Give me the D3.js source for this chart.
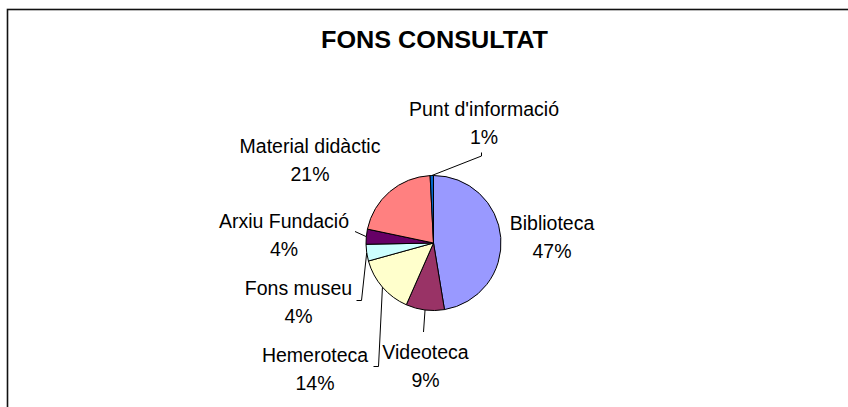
<!DOCTYPE html>
<html>
<head>
<meta charset="utf-8">
<script src="https://cdn.jsdelivr.net/npm/d3@7"></script>
<style>
  body { margin: 0; background: #fff; }
  svg { display: block; }
  text { font-family: Arial, "Liberation Sans", sans-serif; fill: #000; }
</style>
</head>
<body>
<svg id="chart" width="848" height="407"></svg>
<script>
// data
var categories = ["Biblioteca", "Videoteca", "Hemeroteca", "Fons museu", "Arxiu Fundació", "Material didàctic", "Punt d'informació"];
var values = [47.4, 9.2, 14.1, 4.0, 3.6, 20.9, 0.8];
var palette = ["#9999FF", "#993366", "#FFFFCC", "#CCFFFF", "#660066", "#FF8080", "#0066CC"];
var title = "FONS CONSULTAT";

// label layout: text centre / first baseline and leader elbow points (null = no leader)
var labelPos = [
  { x: 552, y: 229.5, leader: null },
  { x: 425.5, y: 359, leader: [[423.5, 332]] },
  { x: 315, y: 361.5, leader: [[378.5, 366.5], [373.5, 366.5]] },
  { x: 298.5, y: 294.5, leader: [[361.5, 300.5], [356.5, 300.5]] },
  { x: 284, y: 227.5, leader: [[355, 231.5]] },
  { x: 310, y: 152.5, leader: null },
  { x: 484, y: 116, leader: [[481.5, 156], [481.5, 152.5]] }
];

var width = 848, height = 407;
var cx = 433.5, cy = 243, radius = 67.5;
var lineGap = 28;

var svg = d3.select("#chart");

// chart frame
svg.append("rect")
  .attr("x", 7.5).attr("y", 9.5)
  .attr("width", 900).attr("height", 500)
  .attr("fill", "#fff")
  .attr("stroke", "#111")
  .attr("stroke-width", 1.6);

svg.append("text")
  .attr("x", 434.5).attr("y", 47.5)
  .attr("text-anchor", "middle")
  .attr("font-weight", "bold")
  .attr("font-size", 23.5)
  .attr("textLength", 227)
  .attr("lengthAdjust", "spacingAndGlyphs")
  .text(title);

var total = d3.sum(values);
var fmt = d3.format(".0%");

var data = categories.map(function(c, i) { return { name: c, value: values[i], idx: i }; });

var pie = d3.pie().sort(null).value(function(d) { return d.value; });
var arcs = pie(data);
var arc = d3.arc().innerRadius(0).outerRadius(radius);

var g = svg.append("g").attr("transform", "translate(" + cx + "," + cy + ")");

g.selectAll("path.slice")
  .data(arcs)
  .enter().append("path")
  .attr("class", "slice")
  .attr("d", arc)
  .attr("fill", function(d) { return palette[d.data.idx]; })
  .attr("stroke", "#000")
  .attr("stroke-width", 1);

// leader lines from outer edge of each slice (mid angle)
var line = d3.line();
arcs.forEach(function(a) {
  var lp = labelPos[a.data.idx];
  if (!lp.leader) return;
  var mid = (a.startAngle + a.endAngle) / 2;
  var start = [cx + radius * Math.sin(mid), cy - radius * Math.cos(mid)];
  svg.append("path")
    .attr("d", line([start].concat(lp.leader)))
    .attr("fill", "none")
    .attr("stroke", "#000")
    .attr("stroke-width", 1);
});

// labels
arcs.forEach(function(a) {
  var lp = labelPos[a.data.idx];
  var t = svg.append("text")
    .attr("text-anchor", "middle")
    .attr("font-size", 19.5);
  t.append("tspan").attr("x", lp.x).attr("y", lp.y).text(a.data.name);
  t.append("tspan").attr("x", lp.x).attr("y", lp.y + lineGap).text(fmt(a.data.value / total));
});
</script>
</body>
</html>
